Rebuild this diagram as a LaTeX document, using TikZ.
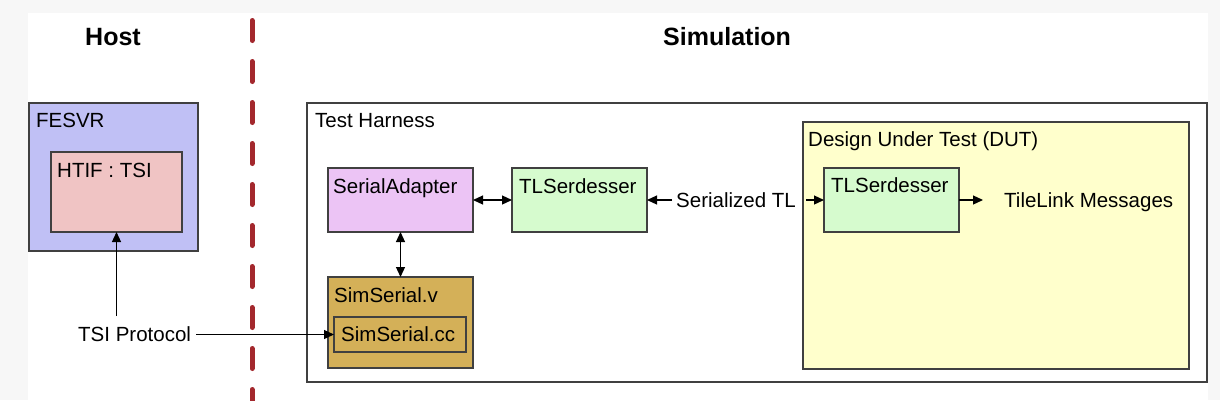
\documentclass[tikz,border=0pt]{standalone}
\usepackage{fontspec}
\setmainfont{Liberation Sans}
\usetikzlibrary{calc,arrows.meta}
\definecolor{bggray}{RGB}{247,247,247}
\definecolor{bordergray}{RGB}{64,64,64}
\definecolor{fesvrc}{RGB}{192,192,245}
\definecolor{htifc}{RGB}{240,196,196}
\definecolor{sac}{RGB}{236,196,245}
\definecolor{tlsc}{RGB}{214,251,206}
\definecolor{ssc}{RGB}{212,176,88}
\definecolor{dutc}{RGB}{255,255,204}
\definecolor{redd}{RGB}{163,40,45}
\begin{document}
\begin{tikzpicture}[x=1pt,y=-1pt,
  box/.style={draw=bordergray, line width=1.4pt, anchor=north west, inner sep=0pt, outer sep=0pt},
  lbl/.style={inner sep=0pt, text height=14.7pt, text depth=0pt, font=\fontsize{20.5}{24}\selectfont, anchor=north west},
  free/.style={lbl, anchor=west},
  title/.style={inner sep=0pt, anchor=base west, font=\fontsize{25}{30}\selectfont\bfseries},
  conn/.style={line width=1.2pt, -{Triangle[length=10pt,width=9pt]}},
  both/.style={line width=1.2pt, {Triangle[length=10pt,width=9pt]}-{Triangle[length=10pt,width=9pt]}},
  sep/.style={draw=redd, line width=5pt, line cap=round, dash pattern=on 20pt off 21pt}]
\useasboundingbox (0,0) rectangle (1220,400);
\fill[bggray] (0,0) rectangle (1220,400);
\fill[white] (28,13) rectangle (1208,400);

% titles
\node[title] (host) at (85,45) {Host};
\node[title] (sim) at (663,45) {Simulation};

% separator
\coordinate (septop) at (252,20.5);
\coordinate (sepbot) at (252,402);
\draw[sep] (septop) -- (sepbot);

% host side
\node[box, fill=fesvrc, minimum width=169pt, minimum height=148pt] (fesvr) at (29,103) {};
\node[lbl] (fesvrl) at ($(fesvr.north west)+(7,10)$) {FESVR};
\node[box, fill=htifc, minimum width=131pt, minimum height=80pt] (htif) at (51,152) {};
\node[lbl] (htifl) at ($(htif.north west)+(6,11)$) {HTIF : TSI};

% simulation side
\node[box, fill=white, minimum width=900pt, minimum height=279pt] (th) at (307,103) {};
\node[lbl] (thl) at ($(th.north west)+(8,10)$) {Test Harness};
\node[box, fill=dutc, minimum width=386pt, minimum height=247pt] (dut) at (803,122) {};
\node[lbl] (dutl) at ($(dut.north west)+(5,10)$) {Design Under Test (DUT)};

\node[box, fill=sac, minimum width=145pt, minimum height=64pt] (sa) at (328,168) {};
\node[lbl] (sal) at ($(sa.north west)+(5,11)$) {SerialAdapter};
\node[box, fill=tlsc, minimum width=135pt, minimum height=64pt] (tls1) at (512,168) {};
\node[lbl] (tls1l) at ($(tls1.north west)+(7,11)$) {TLSerdesser};
\node[box, fill=ssc, minimum width=145pt, minimum height=91pt] (ssv) at (328,277) {};
\node[lbl] (ssvl) at ($(ssv.north west)+(6,11)$) {SimSerial.v};
\node[box, fill=ssc, minimum width=132pt, minimum height=35pt] (sscc) at (334,317) {};
\node[lbl] (sscal) at ($(sscc.north west)+(7,10)$) {SimSerial.cc};
\node[box, fill=tlsc, minimum width=135pt, minimum height=64pt] (tls2) at (824,168) {};
\node[lbl] (tls2l) at ($(tls2.north west)+(7,10)$) {TLSerdesser};

% free labels
\node[free] (tsi) at (78,334.5) {TSI Protocol};
\node[free] (ser) at (676,200) {Serialized TL};
\node[free] (tlm) at (1004,200) {TileLink Messages};
\coordinate (tsiup) at (116.5,316);
\coordinate (tlend) at (983,200);

% connectors
\draw[conn] (tsiup) -- (htif.south);
\draw[conn] ($(tsi.east)+(5,0)$) -- (sscc.west);
\draw[both] (sa.east) -- (tls1.west);
\draw[both] (sa.south) -- (ssv.north);
\draw[conn] ($(ser.west)+(-4,0)$) -- (tls1.east);
\draw[conn] ($(ser.east)+(10,0)$) -- (tls2.west);
\draw[conn] (tls2.east) -- (tlend);
\end{tikzpicture}
\end{document}
